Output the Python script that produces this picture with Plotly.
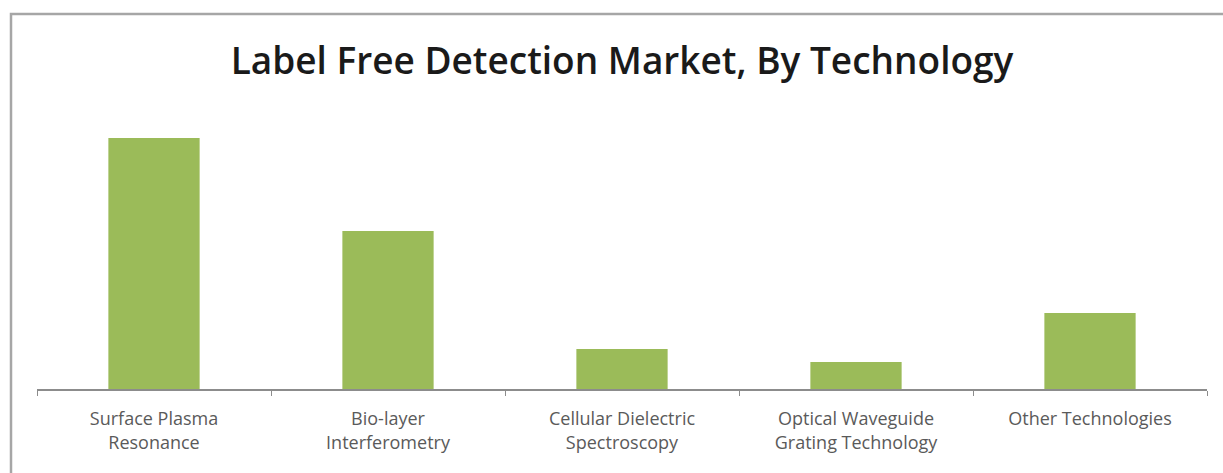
import plotly.graph_objects as go

categories = ["Surface Plasma<br>Resonance", "Bio-layer<br>Interferometry",
              "Cellular Dielectric<br>Spectroscopy", "Optical Waveguide<br>Grating Technology",
              "Other Technologies"]
values = [251, 158, 40, 27, 76]
title_text = "Label Free Detection Market, By Technology"

W, H = 1223, 473
L, R, T, B = 37, 16, 100, 84
pw, ph = W - L - R, H - T - B

def px(x):
    return (x - L) / pw

def py(y):
    return (H - B - y) / ph

fig = go.Figure(go.Bar(x=categories, y=values, marker_color="#9bbb59",
                       marker_line_width=0))

fig.update_layout(
    width=W, height=H,
    margin=dict(l=L, r=R, t=T, b=B),
    paper_bgcolor="white", plot_bgcolor="white",
    bargap=0.61,
    showlegend=False,
    title=dict(text=title_text, xref="paper", x=0.5, xanchor="center",
               y=1 - 61 / H, yanchor="middle",
               font=dict(family="Open Sans", size=37, color="#1a1a1a", weight=600)),
    xaxis=dict(showline=True, linecolor="#8c8c8c", linewidth=1.5,
               ticks="outside", tickson="boundaries", ticklen=5, tickcolor="#8c8c8c",
               tickfont=dict(family="Open Sans", size=18, color="#5a5a5a"),
               ticklabelstandoff=13),
    yaxis=dict(visible=False, range=[0, ph]),
    shapes=[dict(type="rect", xref="paper", yref="paper",
                 x0=px(11), x1=px(1235), y0=py(14), y1=py(490),
                 line=dict(color="#a6a6a6", width=2.5), fillcolor="rgba(0,0,0,0)")],
)

fig.write_html("out.html")
